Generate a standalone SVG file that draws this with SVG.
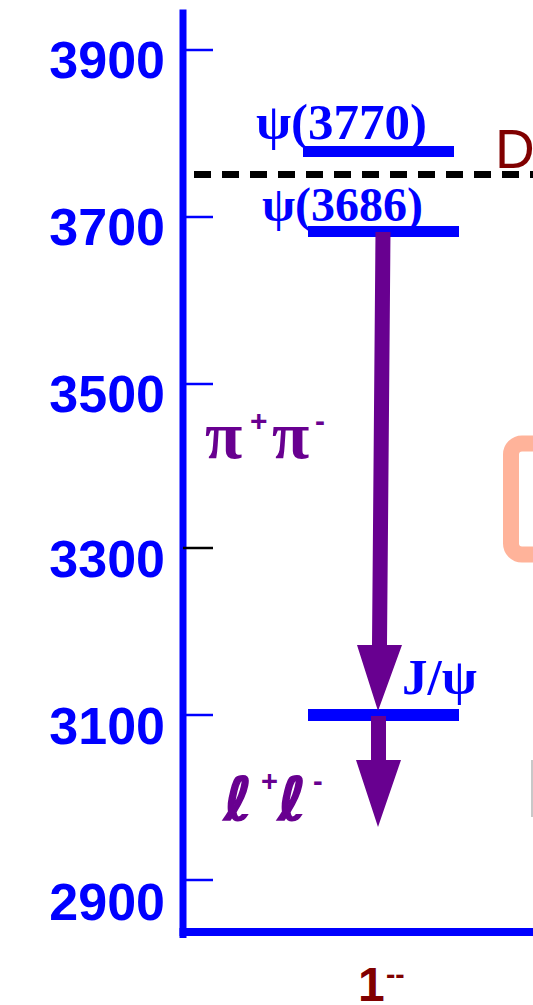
<svg xmlns="http://www.w3.org/2000/svg" width="533" height="1005" viewBox="0 0 533 1005">
<style>
.num{font-family:"Liberation Sans",Arial,sans-serif;font-weight:bold;font-size:52px;fill:#0000ff;text-anchor:end}
.lvl{fill:#0000ff}
.lab{font-family:"Liberation Serif","Times New Roman",serif;font-weight:bold;fill:#0000ff}
.tick{stroke:#0000ff;stroke-width:2.5}
.arr{fill:#680090}
.dec{font-family:"Liberation Serif","DejaVu Serif",serif;font-weight:bold;fill:#680090}
.sup{font-family:"Liberation Sans",Arial,sans-serif;font-weight:bold;fill:#680090}
.ell{font-family:"DejaVu Sans",sans-serif;font-weight:bold;fill:#680090;stroke:#680090;stroke-width:1.5}
</style>
<rect width="533" height="1005" fill="#ffffff"/>
<g id="axis">
<rect x="179.5" y="9.5" width="7" height="928.5" fill="#0000ff"/>
<rect x="179.5" y="928" width="354" height="8" fill="#0000ff"/>
<line class="tick" x1="186" y1="50" x2="213" y2="50"/>
<line class="tick" x1="186" y1="217" x2="213" y2="217"/>
<line class="tick" x1="186" y1="384" x2="213" y2="384"/>
<line x1="183" y1="548" x2="213" y2="548" stroke="#000000" stroke-width="2.5"/>
<line class="tick" x1="186" y1="715" x2="213" y2="715"/>
<line class="tick" x1="186" y1="880" x2="213" y2="880"/>
<text class="num" x="165" y="78">3900</text>
<text class="num" x="165" y="245">3700</text>
<text class="num" x="165" y="412">3500</text>
<text class="num" x="165" y="577">3300</text>
<text class="num" x="165" y="744">3100</text>
<text class="num" x="165" y="920">2900</text>
</g>
<g id="threshold">
<line x1="194" y1="174.5" x2="533" y2="174.5" stroke="#000000" stroke-width="7" stroke-dasharray="17 11"/>
<text x="495" y="168" font-family="Liberation Sans,Arial,sans-serif" font-size="55" fill="#800000">D</text>
</g>
<g id="box">
<rect x="511" y="443.5" width="60" height="111" rx="11" fill="none" stroke="#ffb39a" stroke-width="16"/>
<rect x="531" y="760" width="2" height="57" fill="#c8c8c8"/>
</g>
<g id="psi3770">
<rect class="lvl" x="303" y="146" width="151" height="11"/>
<text class="lab" x="256" y="139" font-size="51">ψ(3770)</text>
</g>
<g id="psi3686">
<rect class="lvl" x="308" y="226" width="151" height="11"/>
<text class="lab" x="262" y="221" font-size="48">ψ(3686)</text>
</g>
<g id="jpsi">
<rect class="lvl" x="308" y="709" width="151" height="12"/>
<text class="lab" x="402" y="694" font-size="51">J/ψ</text>
</g>
<g id="connectors">
<polygon class="arr" points="375.5,232 390.5,232 387,645 402,645 378,711 357,645 372,645"/>
<polygon class="arr" points="371,716 386,716 386,760 401,760 378,827 356,760 371,760"/>
</g>
<g id="labels">
<text class="dec" x="205" y="458" font-size="68">π</text>
<text class="sup" x="250" y="431" font-size="30">+</text>
<text class="dec" x="272" y="458" font-size="68">π</text>
<text class="sup" x="315" y="431" font-size="30">-</text>
<text class="ell" x="224" y="820" font-size="60">ℓ</text>
<text class="sup" x="261" y="791" font-size="29">+</text>
<text class="ell" x="278" y="820" font-size="60">ℓ</text>
<text class="sup" x="313" y="791" font-size="29">-</text>
<text x="358" y="1001" font-family="Liberation Sans,Arial,sans-serif" font-weight="bold" font-size="48" fill="#800000">1</text>
<text x="386" y="984" font-family="Liberation Sans,Arial,sans-serif" font-weight="bold" font-size="28" fill="#800000">--</text>
</g>
</svg>
